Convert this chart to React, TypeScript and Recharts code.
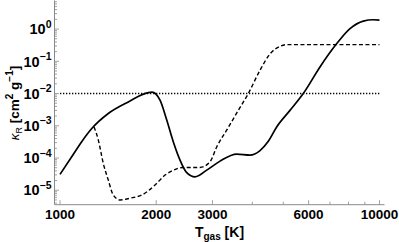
import React from 'react';
import { LineChart, Line, XAxis, YAxis } from 'recharts';

// solid curve
const solidT = [1000, 1088, 1169, 1257, 1416, 1636, 1890, 1941, 2056, 2158, 2262, 2375, 2493, 2646, 2879, 3168, 3573, 3933, 4227, 4487, 4766, 5246, 5773, 6513, 7309, 8085, 8898, 9563, 10000];
const solidK = [3.1e-5, 1.09e-4, 3.2e-4, 8.2e-4, 2.4e-3, 5.5e-3, 1.07e-2, 1.1e-2, 6.2e-3, 1.5e-3, 3.2e-4, 8.6e-5, 3.5e-5, 2.6e-5, 4.2e-5, 8e-5, 1.32e-4, 1.23e-4, 1.7e-4, 3.3e-4, 9.2e-4, 3.0e-3, 1.0e-2, 0.067, 0.33, 1.03, 1.77, 1.95, 1.9];

// dashed curve
const dashedT = [1278, 1318, 1366, 1416, 1468, 1541, 1676, 1802, 1983, 2132, 2210, 2432, 2742, 2948, 3093, 3324, 3614, 3885, 4227, 4543, 4882, 5122, 6000, 10000];
const dashedK = [9.2e-4, 3.6e-4, 6.8e-5, 2.07e-5, 7.1e-6, 5e-6, 5.8e-6, 7.1e-6, 1.45e-5, 2.96e-5, 3.7e-5, 5.1e-5, 5.1e-5, 7.6e-5, 2.2e-4, 7.3e-4, 3.0e-3, 1.0e-2, 0.053, 0.17, 0.29, 0.33, 0.33, 0.33];

// dotted constant
const dottedT = [1000, 10000];
const dottedK = [0.01, 0.01];

const xTicks = [1000, 2000, 3000, 4000, 5000, 6000, 7000, 8000, 9000, 10000];
const xLabels = ['1000', '2000', '3000', '', '', '6000', '', '', '', '10000'];
const yMajor = [1e-5, 1e-4, 1e-3, 1e-2, 1e-1, 1];

const X_DOMAIN = [961, 10368];
const Y_DOMAIN = [3.56e-6, 7.7];

const yTicks: number[] = [];
for (let e = -6; e <= 0; e++) {
  for (let m = 1; m <= 9; m++) {
    const v = m * Math.pow(10, e);
    if (v >= Y_DOMAIN[0] && v <= Y_DOMAIN[1]) yTicks.push(v);
  }
}

const solid = solidT.map((t, i) => ({ t, k: solidK[i] }));
const dashed = dashedT.map((t, i) => ({ t, k: dashedK[i] }));
const dotted = dottedT.map((t, i) => ({ t, k: dottedK[i] }));

const FRAME = '#8a8a8a';
const FONT = '"Liberation Sans", Arial, sans-serif';

const isMajorY = (v: number) => yMajor.some((m) => Math.abs(v / m - 1) < 1e-6);

const LeftTick = (props: any) => {
  const { x, y, payload } = props;
  const v = payload.value;
  const major = isMajorY(v);
  const e = Math.round(Math.log10(v));
  return (
    <g>
      <line x1={x} x2={x + (major ? 4.5 : 2.5)} y1={y} y2={y} stroke={FRAME} strokeWidth={0.8} />
      {major && (
        <text x={x - 3} y={y + 5.2} textAnchor="end" fontFamily={FONT} fontWeight="bold" fontSize={14.5} fill="#000">
          10
          <tspan dy={-6.5} fontSize={10.5}>{e === 0 ? '0' : '\u2212' + Math.abs(e)}</tspan>
        </text>
      )}
    </g>
  );
};

const RightTick = (props: any) => {
  const { x, y, payload } = props;
  const major = isMajorY(payload.value);
  return <line x1={x} x2={x - (major ? 4.5 : 2.5)} y1={y} y2={y} stroke={FRAME} strokeWidth={0.8} />;
};

const BottomTick = (props: any) => {
  const { x, y, payload } = props;
  const label = xLabels[xTicks.indexOf(payload.value)] ?? '';
  const major = label !== '';
  return (
    <g>
      <line x1={x} x2={x} y1={y} y2={y - (major ? 4.5 : 3)} stroke={FRAME} strokeWidth={0.8} />
      {major && (
        <text x={x} y={y + 14.5} textAnchor="middle" fontFamily={FONT} fontWeight="bold" fontSize={13.5} fill="#000">
          {label}
        </text>
      )}
    </g>
  );
};

const TopTick = (props: any) => {
  const { x, y, payload } = props;
  const major = (xLabels[xTicks.indexOf(payload.value)] ?? '') !== '';
  return <line x1={x} x2={x} y1={y} y2={y + (major ? 4.5 : 3)} stroke={FRAME} strokeWidth={0.8} />;
};

export default function App() {
  return (
    <div style={{ position: 'absolute', left: 0, top: 0, width: 399, height: 242, background: '#fff' }}>
      <LineChart width={399} height={242} margin={{ top: 0.5, right: 14.5, bottom: 0, left: 0 }}>
        <XAxis
          dataKey="t"
          type="number"
          scale="log"
          domain={X_DOMAIN}
          allowDataOverflow
          ticks={xTicks}
          interval={0}
          tickSize={0}
          tickMargin={0}
          tick={<BottomTick />}
          height={37.3}
          axisLine={{ stroke: FRAME }}
        />
        <XAxis
          xAxisId="top"
          orientation="top"
          dataKey="t"
          type="number"
          scale="log"
          domain={X_DOMAIN}
          allowDataOverflow
          ticks={xTicks}
          interval={0}
          tickSize={0}
          tickMargin={0}
          tick={<TopTick />}
          height={0}
          axisLine={{ stroke: FRAME }}
        />
        <YAxis
          dataKey="k"
          type="number"
          scale="log"
          domain={Y_DOMAIN}
          allowDataOverflow
          ticks={yTicks}
          interval={0}
          tickSize={0}
          tickMargin={0}
          tick={<LeftTick />}
          width={54.5}
          axisLine={{ stroke: FRAME }}
        />
        <YAxis
          yAxisId="right"
          orientation="right"
          dataKey="k"
          type="number"
          scale="log"
          domain={Y_DOMAIN}
          allowDataOverflow
          ticks={yTicks}
          interval={0}
          tickSize={0}
          tickMargin={0}
          tick={<RightTick />}
          width={0}
          axisLine={{ stroke: FRAME }}
        />
        <Line data={dotted} dataKey="k" type="linear" stroke="#000" strokeWidth={1.6} strokeDasharray="1.3 1.7" dot={false} isAnimationActive={false} />
        <Line data={dashed} dataKey="k" type="monotone" stroke="#000" strokeWidth={1.4} strokeDasharray="4 2.5" dot={false} isAnimationActive={false} />
        <Line data={solid} dataKey="k" type="monotone" stroke="#000" strokeWidth={1.7} dot={false} isAnimationActive={false} />
      </LineChart>
      <svg width={399} height={242} style={{ position: 'absolute', left: 0, top: 0, pointerEvents: 'none' }}>
        <text x={219.5} y={237} textAnchor="middle" fontFamily={FONT} fontWeight="bold" fontSize={14} fill="#000">
          T<tspan dy={3} fontSize={10}>gas</tspan>
          <tspan dy={-3}> [K]</tspan>
        </text>
        <text
          transform="translate(19,103) rotate(-90)"
          textAnchor="middle"
          fontFamily={FONT}
          fontWeight="bold"
          fontSize={13.5}
          fill="#000"
        >
          <tspan fontWeight="normal" fontStyle="italic">κ</tspan>
          <tspan dy={3} fontSize={9} fontWeight="normal">R</tspan>
          <tspan dy={-3}> [cm</tspan>
          <tspan dy={-6} fontSize={10}>2</tspan>
          <tspan dy={6}> g</tspan>
          <tspan dy={-6} fontSize={10}>{'\u2212'}1</tspan>
          <tspan dy={6}>]</tspan>
        </text>
      </svg>
    </div>
  );
}
